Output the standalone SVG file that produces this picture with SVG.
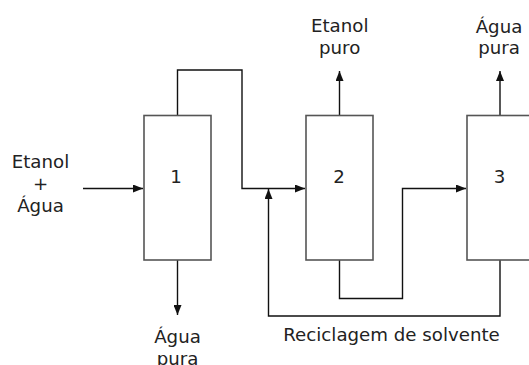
<svg xmlns="http://www.w3.org/2000/svg" width="529" height="365" viewBox="0 0 529 365">
<style>
.box{fill:#fff;stroke:#555;stroke-width:1.6}
.ln{fill:none;stroke:#111;stroke-width:1.4}
text{font-family:"DejaVu Sans",Verdana,sans-serif;font-size:18.2px;fill:#222;text-anchor:middle}
</style>
<defs>
<marker id="ah" markerWidth="10" markerHeight="8" refX="10" refY="4" orient="auto" markerUnits="userSpaceOnUse">
<path d="M0,0 L10,4 L0,8 Z" fill="#111"/>
</marker>
</defs>
<g id="connectors">
<path class="ln" d="M83,188.5 H143" marker-end="url(#ah)"/>
<path class="ln" d="M177.5,115 V70 H242 V188.5 H305" marker-end="url(#ah)"/>
<path class="ln" d="M177.5,260 V315" marker-end="url(#ah)"/>
<path class="ln" d="M339.5,115 V71" marker-end="url(#ah)"/>
<path class="ln" d="M339.5,260 V298.5 H402.5 V188.5 H466" marker-end="url(#ah)"/>
<path class="ln" d="M500,115 V71" marker-end="url(#ah)"/>
<path class="ln" d="M500,260 V316 H268.5 V189" marker-end="url(#ah)"/>
</g>
<g id="node1">
<rect class="box" x="144" y="115.5" width="67" height="144.5"/>
<text x="176" y="183">1</text>
</g>
<g id="node2">
<rect class="box" x="306" y="115.5" width="67" height="144.5"/>
<text x="339" y="183">2</text>
</g>
<g id="node3">
<rect class="box" x="467" y="115.5" width="67" height="144.5"/>
<text x="499.5" y="183">3</text>
</g>
<g id="feed">
<text x="40.5" y="168">Etanol</text>
<text x="40.5" y="190">+</text>
<text x="40.5" y="211.5">Água</text>
</g>
<g id="out2">
<text x="339.7" y="32">Etanol</text>
<text x="339.7" y="54">puro</text>
</g>
<g id="out3">
<text x="499" y="33">Água</text>
<text x="499" y="54">pura</text>
</g>
<g id="out1">
<text x="177.5" y="343">Água</text>
<text x="177.5" y="365">pura</text>
</g>
<g id="recycle">
<text x="391.5" y="341">Reciclagem de solvente</text>
</g>
</svg>
